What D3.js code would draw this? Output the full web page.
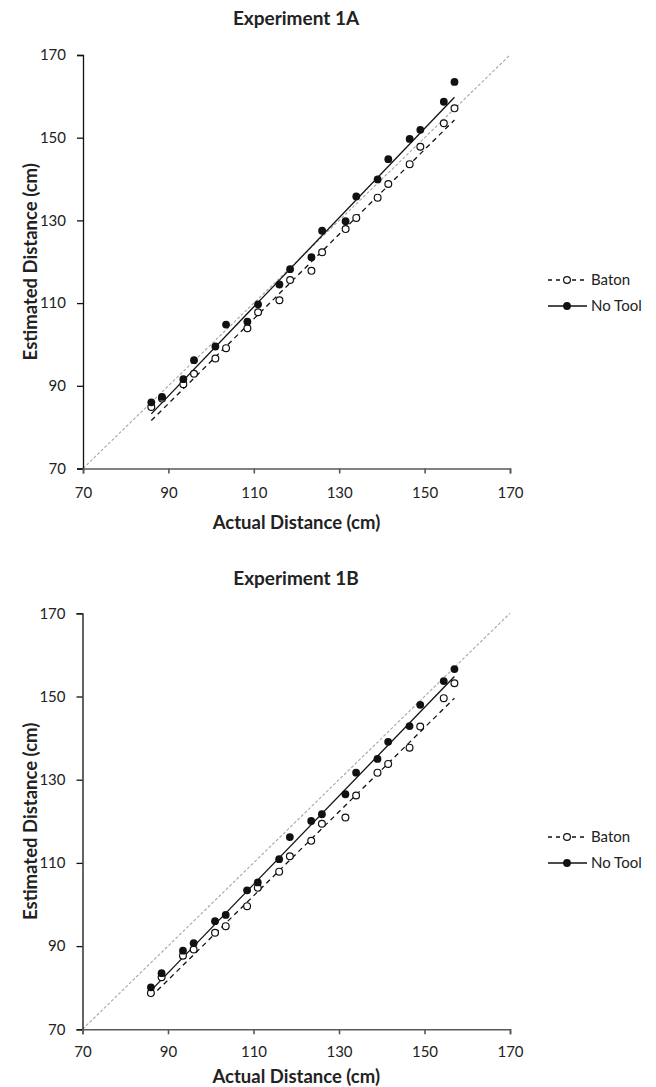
<!DOCTYPE html>
<html><head><meta charset="utf-8">
<script src="https://cdn.jsdelivr.net/npm/d3@7"></script>
<style>body{margin:0;background:#fff;} svg{display:block;} text{font-family:Lato,"Open Sans",sans-serif;}</style>
</head><body>
<svg id="c" width="656" height="1087"></svg>
<script>
const actualDistance = [86, 88.5, 93.5, 96, 101, 103.5, 108.5, 111, 116, 118.5, 123.5, 126, 131.5, 134, 139, 141.5, 146.5, 149, 154.5, 157];
const exp1A_baton  = [84.9, 86.9, 90.4, 92.9, 96.6, 99.1, 103.9, 107.8, 110.7, 115.6, 117.8, 122.3, 127.9, 130.6, 135.5, 138.8, 143.6, 147.8, 153.5, 157.1];
const exp1A_noTool = [86.0, 87.3, 91.6, 96.2, 99.5, 104.8, 105.5, 109.7, 114.5, 118.2, 121.1, 127.5, 129.8, 135.8, 139.9, 144.8, 149.7, 151.9, 158.7, 163.5];
const exp1B_baton  = [78.7, 82.5, 87.7, 89.2, 93.2, 94.8, 99.6, 104.0, 107.9, 111.6, 115.3, 119.4, 120.9, 126.2, 131.7, 133.8, 137.7, 142.8, 149.6, 153.2];
const exp1B_noTool = [80.1, 83.5, 88.9, 90.7, 96.0, 97.5, 103.4, 105.3, 110.9, 116.2, 120.1, 121.7, 126.5, 131.7, 135.0, 139.1, 142.9, 148.0, 153.7, 156.6];
// fitted trend line end values (at x = 86 and x = 157)
const trendX = [86, 157];
const exp1A_batonTrend  = [81.6, 154.3];
const exp1A_noToolTrend = [83.2, 159.8];
const exp1B_batonTrend  = [77.8, 149.6];
const exp1B_noToolTrend = [79.3, 154.8];
const axisTicks = [70, 90, 110, 130, 150, 170];
const seriesNames = ["Baton", "No Tool"];
const titles = ["Experiment 1A", "Experiment 1B"];

const svg = d3.select("#c");

function drawChart(cfg) {
  const x = d3.scaleLinear().domain([70, 170]).range([cfg.left, cfg.right]);
  const y = d3.scaleLinear().domain([70, 170]).range([cfg.bottom, cfg.top]);
  const g = svg.append("g");

  // title
  g.append("text").attr("x", 296).attr("y", cfg.titleY).attr("text-anchor", "middle")
    .attr("font-weight", "bold").attr("font-size", 19).attr("fill", "#222").text(cfg.title);

  // identity line
  g.append("line").attr("x1", x(70)).attr("y1", y(70)).attr("x2", x(170)).attr("y2", y(170))
    .attr("stroke", "#a6a6a6").attr("stroke-width", 1.1).attr("stroke-dasharray", "3,2");

  // y axis
  const ya = g.append("g").attr("transform", `translate(${cfg.left},0)`)
    .call(d3.axisLeft(y).tickValues(axisTicks).tickSize(6).tickPadding(11).tickFormat(d3.format("d")));
  ya.selectAll("path,line").attr("stroke", "#111").attr("stroke-width", 1.3);
  ya.selectAll("text").attr("font-size", 15).attr("fill", "#222").style("font-family", "Lato");

  // x axis
  const xa = g.append("g").attr("transform", `translate(0,${cfg.bottom})`)
    .call(d3.axisBottom(x).tickValues(axisTicks).tickSize(5).tickPadding(cfg.xPad).tickFormat(d3.format("d")));
  xa.selectAll("path,line").attr("stroke", "#595959").attr("stroke-width", 1.6);
  xa.selectAll("text").attr("font-size", 15).attr("fill", "#222").style("font-family", "Lato");

  // axis titles
  g.append("text").attr("x", (cfg.left + cfg.right) / 2).attr("y", cfg.bottom + cfg.xTitleOff)
    .attr("text-anchor", "middle").attr("font-weight", "bold").attr("font-size", 18.5).attr("fill", "#222")
    .text("Actual Distance (cm)");
  g.append("text").attr("transform", `translate(37,${(cfg.top + cfg.bottom) / 2}) rotate(-90)`)
    .attr("text-anchor", "middle").attr("font-weight", "bold").attr("font-size", 18.5).attr("fill", "#222")
    .text("Estimated Distance (cm)");

  // trend lines
  const line = d3.line().x(d => x(d[0])).y(d => y(d[1]));
  g.append("path").datum(d3.zip(trendX, cfg.batonTrend)).attr("d", line)
    .attr("stroke", "#111").attr("stroke-width", 1.3).attr("fill", "none").attr("stroke-dasharray", "5,4");
  g.append("path").datum(d3.zip(trendX, cfg.noToolTrend)).attr("d", line)
    .attr("stroke", "#111").attr("stroke-width", 1.3).attr("fill", "none");

  // points
  g.append("g").selectAll("circle").data(d3.zip(actualDistance, cfg.baton)).join("circle")
    .attr("cx", d => x(d[0])).attr("cy", d => y(d[1])).attr("r", 3.4)
    .attr("fill", "#fff").attr("stroke", "#111").attr("stroke-width", 1.2);
  g.append("g").selectAll("circle").data(d3.zip(actualDistance, cfg.noTool)).join("circle")
    .attr("cx", d => x(d[0])).attr("cy", d => y(d[1])).attr("r", 3.9)
    .attr("fill", "#111");

  // legend
  const lg = g.append("g").attr("transform", `translate(0,${cfg.legendY})`);
  lg.append("line").attr("x1", 548).attr("x2", 587).attr("y1", 0).attr("y2", 0)
    .attr("stroke", "#111").attr("stroke-width", 1.3).attr("stroke-dasharray", "4,4");
  lg.append("circle").attr("cx", 567).attr("cy", 0).attr("r", 3.4).attr("fill", "#fff").attr("stroke", "#111").attr("stroke-width", 1.2);
  lg.append("text").attr("x", 591).attr("y", 0).attr("dy", "0.35em").attr("font-size", 15).attr("fill", "#222").text(seriesNames[0]);
  lg.append("line").attr("x1", 548).attr("x2", 587).attr("y1", 26).attr("y2", 26)
    .attr("stroke", "#111").attr("stroke-width", 1.3);
  lg.append("circle").attr("cx", 567).attr("cy", 26).attr("r", 3.9).attr("fill", "#111");
  lg.append("text").attr("x", 591).attr("y", 26).attr("dy", "0.35em").attr("font-size", 15).attr("fill", "#222").text(seriesNames[1]);
}

drawChart({title: titles[0], titleY: 25, left: 83, right: 510, top: 55, bottom: 468.5, legendY: 280,
  xPad: 14, xTitleOff: 60,
  baton: exp1A_baton, noTool: exp1A_noTool, batonTrend: exp1A_batonTrend, noToolTrend: exp1A_noToolTrend});
drawChart({title: titles[1], titleY: 585, left: 82.5, right: 510, top: 613.3, bottom: 1029.3, legendY: 837,
  xPad: 12, xTitleOff: 54,
  baton: exp1B_baton, noTool: exp1B_noTool, batonTrend: exp1B_batonTrend, noToolTrend: exp1B_noToolTrend});
</script>
</body></html>
